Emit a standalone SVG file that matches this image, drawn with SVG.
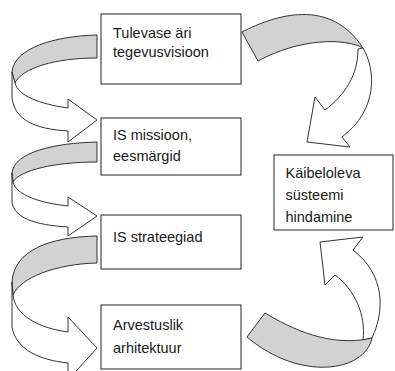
<svg xmlns="http://www.w3.org/2000/svg" width="395" height="371" viewBox="0 0 395 371">
<style>
.box{fill:#fff;stroke:#222;stroke-width:1}
.back{fill:#d2d2d2;stroke:#333;stroke-width:1;stroke-linejoin:round}
.front{fill:#fff;stroke:#333;stroke-width:1;stroke-linejoin:miter}
text{font-family:"Liberation Sans",Arial,sans-serif;font-size:14.5px;fill:#1a1a1a}
</style>
<rect width="395" height="371" fill="#fff"/>
<g id="connectors">
  <g id="arrow1">
    <path class="back" d="M97,35 C55,36 14,48 12,72 L15,83 C22,68 55,58 97,58 Z"/>
    <path class="front" d="M12,72 L12,97 C14,120 35,129 68,131 L68,142 L97,120 L68,99 L68,108 C40,104 18,96 15,83 Z"/>
  </g>
  <g id="arrow2">
    <path class="back" d="M97,142 C55,143 14,152 12,173 L13,182 C20,170 55,162 97,162 Z"/>
    <path class="front" d="M12,173 L12,202 C14,218 35,225 68,227 L68,236 L97,216 L68,197 L68,206 C40,203 16,195 13,182 Z"/>
  </g>
  <g id="arrow3">
    <path class="back" d="M97,236 C50,237 14,250 12,282 L13,295 C20,278 55,264 97,263 Z"/>
    <path class="front" d="M12,282 L12,327 C16,350 40,360 68,363 L68,380 L97,348 L68,317 L68,332 C38,328 15,315 13,295 Z"/>
  </g>
  <g id="arrow4">
    <path class="back" d="M242,32 C275,15 330,-3 363,48 C345,38 300,38 258,61 Z"/>
    <path class="front" d="M358,49 C358,75 345,95 325,110 L315,97 L307,142 L350,147 L342,137 C378,110 376,70 363,48 Z"/>
  </g>
  <g id="arrow5">
    <path class="front" d="M363,340 C366,315 355,290 335,275 L325,285 L320,242 L363,237 L353,250 C385,275 385,310 372,338 Z"/>
    <path class="back" d="M265,313 C290,328 330,348 372,338 C365,372 300,382 247,337 Z"/>
  </g>
</g>
<g id="node1">
  <rect class="box" x="101" y="14" width="140" height="70"/>
  <text x="113" y="37.5">Tulevase äri</text>
  <text x="113" y="57">tegevusvisioon</text>
</g>
<g id="node2">
  <rect class="box" x="101" y="118" width="140" height="57"/>
  <text x="113" y="139.5">IS missioon,</text>
  <text x="113" y="161">eesmärgid</text>
</g>
<g id="node3">
  <rect class="box" x="101" y="215" width="140" height="54"/>
  <text x="113" y="242">IS strateegiad</text>
</g>
<g id="node4">
  <rect class="box" x="101" y="305" width="140" height="64"/>
  <text x="113" y="330">Arvestuslik</text>
  <text x="113" y="353">arhitektuur</text>
</g>
<g id="node5">
  <rect class="box" x="274" y="155" width="119" height="75"/>
  <text x="285.5" y="178">Käibeloleva</text>
  <text x="285.5" y="200">süsteemi</text>
  <text x="285.5" y="222">hindamine</text>
</g>
</svg>
